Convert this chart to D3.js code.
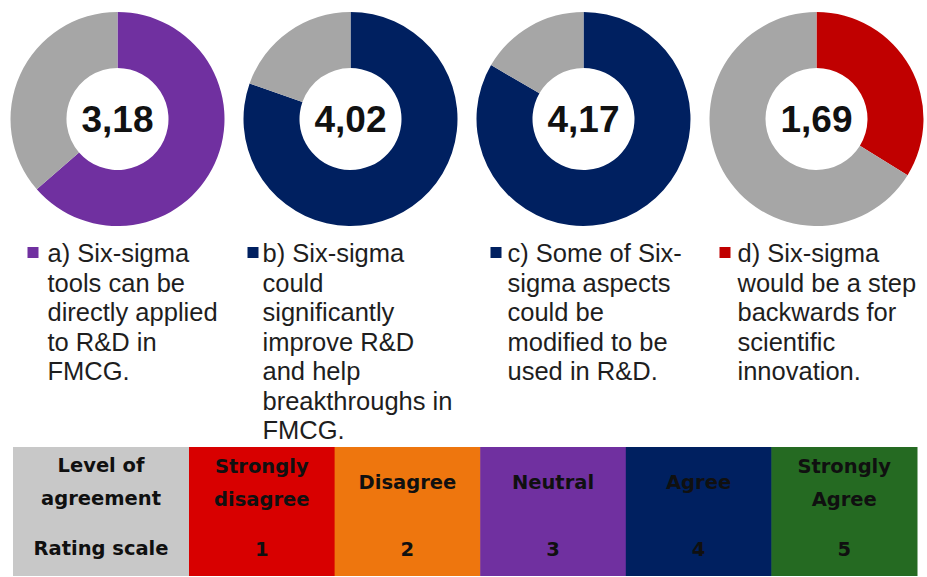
<!DOCTYPE html>
<html>
<head>
<meta charset="utf-8">
<script src="https://cdn.jsdelivr.net/npm/d3@7"></script>
<style>
  html, body { margin: 0; padding: 0; background: #fff; }
  svg { display: block; }
</style>
</head>
<body>
<svg id="chart" width="927" height="577"></svg>
<script>
// ---------- data ----------
const statements = ["a", "b", "c", "d"];
const meanScores = [3.18, 4.02, 4.17, 1.69];
const scaleMax = 5;
const seriesColors = ["#7030A0", "#002060", "#002060", "#C00000"];
const legendLines = [
  ["a) Six-sigma", "tools can be", "directly applied", "to R&D in", "FMCG."],
  ["b) Six-sigma", "could", "significantly", "improve R&D", "and help", "breakthroughs in", "FMCG."],
  ["c) Some of Six-", "sigma aspects", "could be", "modified to be", "used in R&D."],
  ["d) Six-sigma", "would be a step", "backwards for", "scientific", "innovation."]
];
const rowHeaders = [["Level of", "agreement"], ["Rating scale"]];
const agreementLevels = [["Strongly", "disagree"], ["Disagree"], ["Neutral"], ["Agree"], ["Strongly", "Agree"]];
const ratingValues = [1, 2, 3, 4, 5];
const levelColors = ["#D80000", "#EE760E", "#7030A0", "#002060", "#256A22"];
const restColor = "#A6A6A6";

// ---------- layout ----------
const svg = d3.select("#chart");
const locale = d3.formatLocale({decimal: ",", thousands: ".", grouping: [3], currency: ["", ""]});
const fmt = locale.format(".2f");

const xDonut = d3.scaleBand().domain(statements).range([1, 933]);
const cy = 119, rOuter = 107, rInner = 51;
const arc = d3.arc().innerRadius(rInner).outerRadius(rOuter);
const pie = d3.pie().sort(null).value(d => d.v);
const legendDx = [-90, -103, -93, -97];
const legendTextGap = [20, 15, 17, 18];

statements.forEach((s, i) => {
  const cx = xDonut(s) + xDonut.bandwidth() / 2;
  const g = svg.append("g").attr("transform", `translate(${cx},${cy})`);
  const parts = [{v: meanScores[i], c: seriesColors[i]}, {v: scaleMax - meanScores[i], c: restColor}];
  g.selectAll("path").data(pie(parts)).join("path")
    .attr("d", arc).attr("fill", d => d.data.c);
  g.append("text").attr("text-anchor", "middle").attr("dy", "0.36em")
    .attr("font-family", "Liberation Sans, Arial, sans-serif").attr("font-weight", "bold")
    .attr("font-size", 37).attr("fill", "#111").text(fmt(meanScores[i]));

  // legend
  const lx = cx + legendDx[i];
  svg.append("rect").attr("x", lx).attr("y", 247).attr("width", 11).attr("height", 11)
    .attr("fill", seriesColors[i]);
  const t = svg.append("text").attr("font-family", "Liberation Sans, Arial, sans-serif")
    .attr("font-size", 25.5).attr("fill", "#1e1e1e");
  legendLines[i].forEach((line, j) => {
    t.append("tspan").attr("x", lx + legendTextGap[i]).attr("y", 262 + j * 29.5).text(line);
  });
});

// ---------- table ----------
const tTop = 447, tBot = 576, tLeft = 13, firstColRight = 189, tRight = 917;
const xCol = d3.scaleBand().domain(ratingValues).range([firstColRight, tRight]).paddingInner(0);
const tableFont = "DejaVu Sans, Verdana, sans-serif";
const textColor = "#101010";

svg.append("rect").attr("x", tLeft).attr("y", tTop).attr("width", firstColRight - tLeft)
  .attr("height", tBot - tTop).attr("fill", "#C8C8C8");
svg.selectAll("rect.level").data(ratingValues).join("rect").attr("class", "level")
  .attr("x", d => xCol(d)).attr("y", tTop).attr("width", xCol.bandwidth() + 0.5)
  .attr("height", tBot - tTop).attr("fill", (d, i) => levelColors[i]);

function multiline(x, yCenter, lines, lh) {
  const t = svg.append("text").attr("text-anchor", "middle").attr("font-family", tableFont)
    .attr("font-weight", "bold").attr("font-size", 19.5).attr("fill", textColor);
  const y0 = yCenter - (lines.length - 1) * lh / 2;
  lines.forEach((l, j) => t.append("tspan").attr("x", x).attr("y", y0 + j * lh).attr("dy", "0.36em").text(l));
}
const firstCx = (tLeft + firstColRight) / 2;
multiline(firstCx, 481, rowHeaders[0], 33);
multiline(firstCx, 548, rowHeaders[1], 33);
ratingValues.forEach((r, i) => {
  const cx = xCol(r) + xCol.bandwidth() / 2;
  multiline(cx, 482, agreementLevels[i], 33);
  multiline(cx, 549, [String(r)], 33);
});
</script>
</body>
</html>
